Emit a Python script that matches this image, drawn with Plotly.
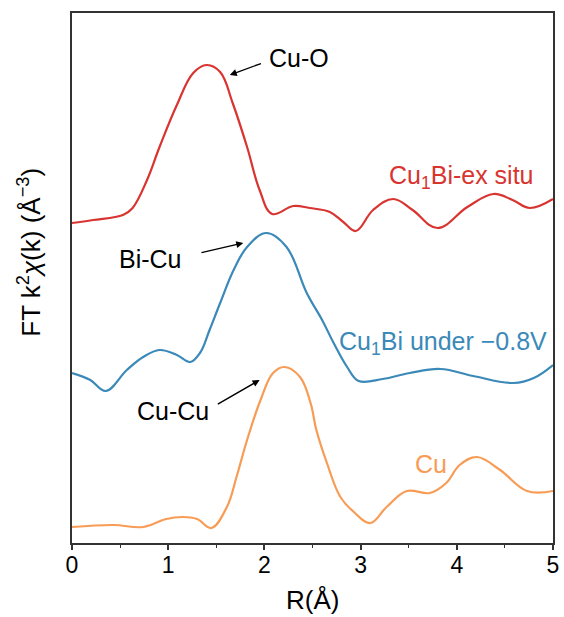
import plotly.graph_objects as go

# R (Å) and intensities (arbitrary units, offset-stacked)
r_exsitu = [0.00, 0.22, 0.53, 0.63, 0.78, 0.91, 1.09, 1.26, 1.40, 1.54, 1.67, 1.82, 1.95, 2.08, 2.30, 2.47, 2.68,
            2.82, 2.95, 3.13, 3.34, 3.54, 3.80, 4.11, 4.38, 4.58, 4.76, 5.00]
y_exsitu = [3.20, 3.23, 3.28, 3.35, 3.63, 3.96, 4.38, 4.70, 4.78, 4.71, 4.40, 3.96, 3.53, 3.29, 3.37, 3.35, 3.31,
            3.21, 3.12, 3.33, 3.44, 3.33, 3.15, 3.36, 3.49, 3.43, 3.35, 3.44]

r_under = [0.00, 0.19, 0.35, 0.57, 0.74, 0.91, 1.09, 1.23, 1.33, 1.43, 1.54, 1.68, 1.82, 2.02, 2.23, 2.44, 2.60,
           2.72, 2.86, 2.98, 3.23, 3.51, 3.83, 4.17, 4.59, 4.80, 5.00]
y_under = [1.70, 1.63, 1.52, 1.73, 1.86, 1.93, 1.88, 1.81, 1.90, 2.13, 2.40, 2.73, 2.96, 3.10, 2.96, 2.50, 2.23,
           2.00, 1.76, 1.62, 1.64, 1.70, 1.74, 1.67, 1.60, 1.65, 1.78]

r_cu = [0.00, 0.43, 0.74, 0.98, 1.15, 1.30, 1.45, 1.61, 1.71, 1.82, 1.96, 2.09, 2.21, 2.37, 2.48, 2.54, 2.65,
        2.79, 2.93, 3.10, 3.27, 3.48, 3.72, 3.89, 4.03, 4.21, 4.45, 4.73, 5.00]
y_cu = [0.16, 0.18, 0.16, 0.24, 0.26, 0.24, 0.15, 0.36, 0.66, 1.03, 1.43, 1.70, 1.76, 1.66, 1.40, 1.13, 0.80,
        0.46, 0.31, 0.20, 0.36, 0.52, 0.50, 0.60, 0.78, 0.86, 0.73, 0.52, 0.52]

x_ticks = [0, 1, 2, 3, 4, 5]

RED = "#d83430"
BLUE = "#3b89b8"
ORANGE = "#f89c55"

fig = go.Figure()
for r, y, c in [(r_exsitu, y_exsitu, RED), (r_under, y_under, BLUE), (r_cu, y_cu, ORANGE)]:
    fig.add_trace(go.Scatter(x=r, y=y, mode="lines",
                             line=dict(color=c, width=2.2, shape="spline", smoothing=1.1),
                             showlegend=False, hoverinfo="skip"))

font = "Liberation Sans, Arial, sans-serif"
ann = []
# peak labels with arrows
for txt, tx, ty, hx, hy, ex, ey in [
    ("Cu-O", 2.36, 4.85, 1.64, 4.68, 1.98, 4.80),
    ("Bi-Cu", 0.82, 2.84, 1.78, 3.00, 1.33, 2.90),
    ("Cu-Cu", 1.05, 1.32, 1.95, 1.63, 1.50, 1.38),
]:
    ann.append(dict(x=tx, y=ty, text=txt, showarrow=False, font=dict(size=25, color="black", family=font)))
    ann.append(dict(x=hx, y=hy, ax=ex, ay=ey, axref="x", ayref="y", text="", showarrow=True,
                    arrowhead=2, arrowsize=1, arrowwidth=1.4, arrowcolor="black"))
for txt, tx, ty, c in [
    ("Cu<sub>1</sub>Bi-ex situ", 4.05, 3.66, RED),
    ("Cu<sub>1</sub>Bi under \u22120.8V", 3.86, 2.00, BLUE),
    ("Cu", 3.73, 0.79, ORANGE),
]:
    ann.append(dict(x=tx, y=ty, text=txt, showarrow=False, font=dict(size=25, color=c, family=font)))

# axis titles
ann.append(dict(xref="paper", yref="paper", x=-0.09, y=0.549, textangle=-90, showarrow=False,
                text="FT k<sup>2</sup><i>χ</i>(k) (Å<sup>\u22123</sup>)",
                font=dict(size=26, color="black", family=font), xanchor="center", yanchor="middle"))
ann.append(dict(xref="paper", yref="paper", x=0.5, y=-0.108, showarrow=False, text="R(Å)",
                font=dict(size=26, color="black", family=font), xanchor="center", yanchor="middle"))

fig.update_layout(
    width=564, height=617,
    margin=dict(l=72, r=11, t=13, b=74),
    paper_bgcolor="white", plot_bgcolor="white",
    font=dict(family=font, size=23, color="black"),
    annotations=ann,
    xaxis=dict(range=[0, 5], tickvals=x_ticks, ticks="outside", ticklen=5, tickwidth=1.5,
               tickcolor="#333", showline=True, linecolor="#333", linewidth=1.6, mirror=True,
               showgrid=False, zeroline=False, tickfont=dict(size=23), automargin=False,
               ticklabelstandoff=-4,
               minor=dict(dtick=0.5, ticks="outside", ticklen=3, tickwidth=1.3, tickcolor="#333")),
    yaxis=dict(range=[0, 5.30], showticklabels=False, ticks="", showline=True, linecolor="#333",
               linewidth=1.6, mirror=True, showgrid=False, zeroline=False, automargin=False),
)

fig.write_html("out.html")
